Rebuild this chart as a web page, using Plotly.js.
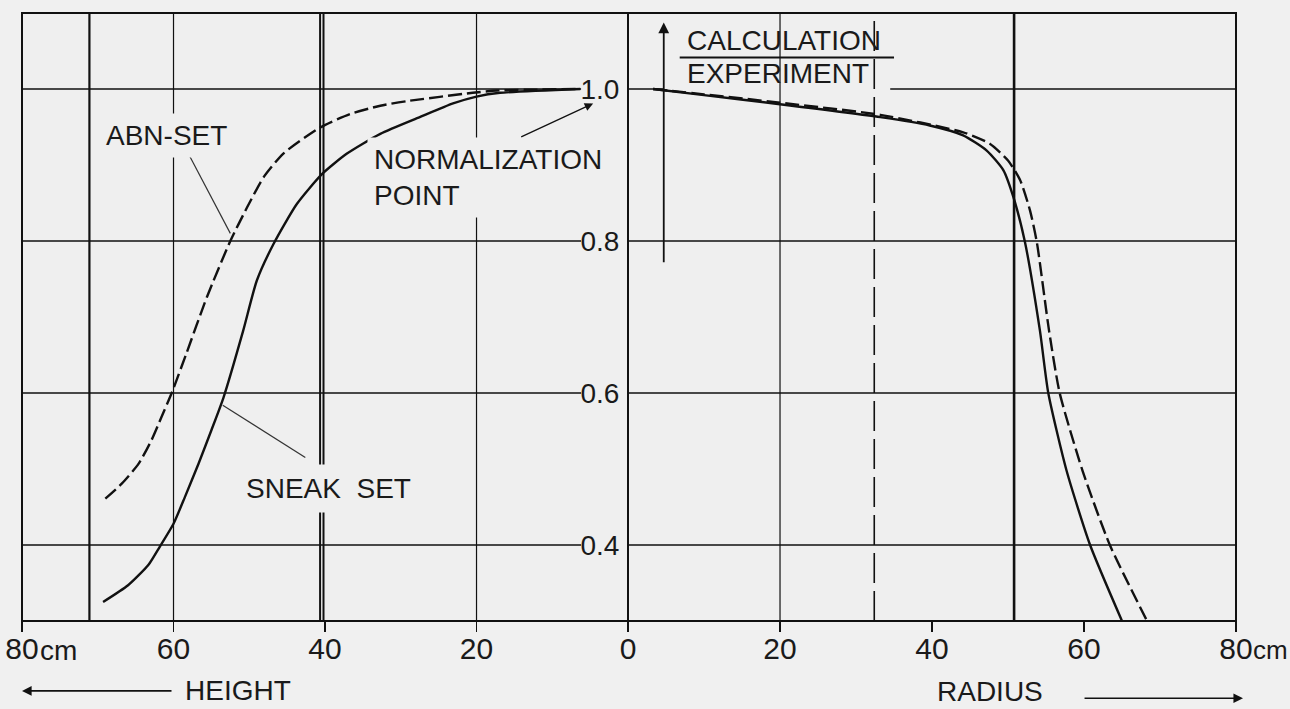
<!DOCTYPE html>
<html><head><meta charset="utf-8">
<script src="https://cdn.plot.ly/plotly-3.0.1.min.js"></script>
<style>html,body{margin:0;padding:0;background:#f0f0f0;} #chart{width:1290px;height:709px;}</style>
</head><body><div id="chart"></div>
<script>
// ---- data ----
// Left half: axial distribution (HEIGHT, cm), ratio CALCULATION / EXPERIMENT
const abnHeight      = [69.0, 66.8, 64.6, 62.9, 61.6, 60.2, 58.3, 55.6, 52.5, 50.3, 48.1, 45.5, 40.7, 36.7, 32.7, 29.2, 20.5, 17.3, 6.3];
const abnHeightRatio = [0.461, 0.481, 0.507, 0.538, 0.568, 0.601, 0.652, 0.726, 0.800, 0.844, 0.884, 0.915, 0.949, 0.967, 0.978, 0.984, 0.995, 0.998, 1.000];
const sneakHeight      = [69.3, 66.0, 63.3, 61.8, 60.0, 58.5, 56.7, 55.0, 53.4, 50.8, 49.0, 46.8, 43.7, 40.4, 37.1, 32.7, 27.5, 23.1, 20.0, 16.9, 6.3];
const sneakHeightRatio = [0.325, 0.347, 0.374, 0.398, 0.428, 0.463, 0.507, 0.551, 0.594, 0.682, 0.748, 0.796, 0.849, 0.888, 0.915, 0.941, 0.963, 0.981, 0.990, 0.995, 1.000];
// Right half: radial distribution (RADIUS, cm)
const sneakRadius      = [3.3, 10, 20, 33.2, 39.7, 44.1, 47.2, 49.4, 50.7, 52.2, 54.2, 55.3, 57.7, 60.8, 65.0];
const sneakRadiusRatio = [1.000, 0.992, 0.980, 0.963, 0.952, 0.939, 0.919, 0.893, 0.858, 0.800, 0.682, 0.600, 0.498, 0.400, 0.300];
const abnRadius        = [3.3, 10, 20, 33.2, 44.1, 47.6, 50.0, 51.6, 52.9, 53.8, 55.4, 56.8, 59.8, 63.4, 68.3];
const abnRadiusRatio   = [1.000, 0.993, 0.982, 0.966, 0.943, 0.928, 0.906, 0.880, 0.840, 0.798, 0.682, 0.600, 0.498, 0.400, 0.300];
// tick labels
const heightTicks = [80, 60, 40, 20];
const heightTickText = ['80', '60', '40', '20'];
const radiusTicks = [0, 20, 40, 60, 80];
const radiusTickText = ['0', '20', '40', '60', '80'];
const ratioTicks = [0.4, 0.6, 0.8, 1.0];
const ratioTickText = ['0.4', '0.6', '0.8', '1.0'];

// ---- styling ----
const INK = '#111111';
const FONT = 'Liberation Sans, Arial, sans-serif';
const dashed = '14px,5px';

const traces = [
  {x: abnHeight, y: abnHeightRatio, xaxis: 'x', yaxis: 'y', name: 'ABN-SET', mode: 'lines',
   line: {color: INK, width: 2.4, dash: dashed, shape: 'spline', smoothing: 0.6}},
  {x: sneakHeight, y: sneakHeightRatio, xaxis: 'x', yaxis: 'y', name: 'SNEAK SET', mode: 'lines',
   line: {color: INK, width: 2.4, shape: 'spline', smoothing: 0.6}},
  {x: abnRadius, y: abnRadiusRatio, xaxis: 'x2', yaxis: 'y', name: 'ABN-SET', mode: 'lines',
   line: {color: INK, width: 2.4, dash: dashed, shape: 'spline', smoothing: 0.6}},
  {x: sneakRadius, y: sneakRadiusRatio, xaxis: 'x2', yaxis: 'y', name: 'SNEAK SET', mode: 'lines',
   line: {color: INK, width: 2.4, shape: 'spline', smoothing: 0.6}}
];

const shapes = [];
function seg(xref, x0, x1, y0, y1, w, dash) {
  shapes.push({type: 'line', xref: xref, yref: 'y', x0: x0, x1: x1, y0: y0, y1: y1, layer: 'below',
               line: {color: INK, width: w, dash: dash || 'solid'}});
}
// horizontal grid (interrupted where the value labels sit)
ratioTicks.forEach(v => {
  seg('x', 80, 6.2, v, v, 1.6);
  if (v === 1.0) { seg('x2', 0, 4.6, v, v, 1.6); seg('x2', 34.5, 80, v, v, 1.6); }
  else seg('x2', 0, 80, v, v, 1.6);
});
// vertical grid lines
[[71.1, 2.2], [60, 1.2], [40.65, 2], [40.2, 2], [20, 1.2]].forEach(g => seg('x', g[0], g[0], 0.3, 1.1, g[1]));
seg('x2', 20, 20, 0.3, 1.1, 1.2);
seg('x2', 32.4, 32.4, 0.3, 1.1, 1.6, '30px,8px');
seg('x2', 50.8, 50.8, 0.3, 1.1, 2.6);
// frame
shapes.push({type: 'rect', xref: 'paper', yref: 'paper', x0: 0, x1: 1, y0: 0, y1: 1, layer: 'below',
             line: {color: INK, width: 2}});
// leader lines
shapes.push({type: 'line', xref: 'x', yref: 'y', x0: 58.1, y0: 0.916, x1: 52.5, y1: 0.810, line: {color: '#333', width: 1.2}});
shapes.push({type: 'line', xref: 'x', yref: 'y', x0: 53.5, y0: 0.584, x1: 42.6, y1: 0.515, line: {color: '#333', width: 1.2}});
// fraction bar CALCULATION / EXPERIMENT
shapes.push({type: 'line', xref: 'x2', yref: 'y', x0: 6.8, x1: 35, y0: 1.0414, y1: 1.0414, line: {color: INK, width: 2}});

const tf = {family: FONT, size: 28, color: '#1a1a1a'};
const annotations = [
  {xref: 'x', yref: 'y', x: 69.9, y: 0.939, xanchor: 'left', yanchor: 'middle', text: 'ABN-SET',
   showarrow: false, font: tf, bgcolor: '#efefef', borderpad: 6},
  {xref: 'x', yref: 'y', x: 51.6, y: 0.474, xanchor: 'left', yanchor: 'middle', text: 'SNEAK  SET',
   showarrow: false, font: tf, bgcolor: '#efefef', borderpad: 8},
  {xref: 'x', yref: 'y', x: 34.4, y: 0.883, xanchor: 'left', yanchor: 'middle', align: 'left',
   text: 'NORMALIZATION<br>POINT', showarrow: false, font: tf, bgcolor: '#efefef', borderpad: 6},
  {xref: 'x', yref: 'y', x: 4.6, y: 0.981, ax: 14.3, ay: 0.936, axref: 'x', ayref: 'y', text: '',
   showarrow: true, arrowhead: 2, arrowsize: 1.3, arrowwidth: 1.3, arrowcolor: INK},
  {xref: 'x2', yref: 'y', x: 7.5, y: 1.064, xanchor: 'left', yanchor: 'middle', text: 'CALCULATION',
   showarrow: false, font: tf},
  {xref: 'x2', yref: 'y', x: 7.5, y: 1.020, xanchor: 'left', yanchor: 'middle', text: 'EXPERIMENT',
   showarrow: false, font: tf},
  {xref: 'x2', yref: 'y', x: 4.7, y: 1.0875, ax: 4.7, ay: 0.770, axref: 'x2', ayref: 'y', text: '',
   showarrow: true, arrowhead: 2, arrowsize: 1.2, arrowwidth: 1.8, arrowcolor: INK},
  // unit parts of the outer tick labels
  {xref: 'paper', yref: 'paper', x: 0.0132, y: -0.0477, xanchor: 'left', yanchor: 'middle', text: 'cm',
   showarrow: false, font: {family: FONT, size: 28, color: '#1a1a1a'}},
  {xref: 'paper', yref: 'paper', x: 1.0125, y: -0.0477, xanchor: 'left', yanchor: 'middle', text: 'cm',
   showarrow: false, font: {family: FONT, size: 26, color: '#1a1a1a'}},
  // axis titles with arrows
  {xref: 'paper', yref: 'paper', x: 0.178, y: -0.115, xanchor: 'center', yanchor: 'middle', text: 'HEIGHT',
   showarrow: false, font: tf},
  {xref: 'paper', yref: 'paper', x: 0, y: -0.115, ax: 151, ay: 0, text: '',
   showarrow: true, arrowhead: 2, arrowsize: 1.2, arrowwidth: 1.6, arrowcolor: INK},
  {xref: 'paper', yref: 'paper', x: 0.797, y: -0.116, xanchor: 'center', yanchor: 'middle', text: 'RADIUS',
   showarrow: false, font: tf},
  {xref: 'paper', yref: 'paper', x: 1.0058, y: -0.127, ax: -160, ay: 0, text: '',
   showarrow: true, arrowhead: 2, arrowsize: 1.2, arrowwidth: 1.6, arrowcolor: INK}
];

const tickFont = {family: FONT, size: 30, color: '#1a1a1a'};
const layout = {
  width: 1290, height: 709,
  margin: {l: 22, r: 54, t: 13, b: 88, pad: 0},
  paper_bgcolor: '#f0f0f0', plot_bgcolor: '#efefef',
  showlegend: false,
  xaxis: {domain: [0, 0.4992], range: [80, 0], anchor: 'y', tickvals: heightTicks, ticktext: heightTickText,
          ticks: 'outside', ticklen: 10, tickwidth: 1.5, tickcolor: INK, showgrid: false, zeroline: false,
          showline: false, tickfont: tickFont, ticklabelstandoff: -9, fixedrange: true},
  xaxis2: {domain: [0.4992, 1], range: [0, 80], anchor: 'y', tickvals: radiusTicks, ticktext: radiusTickText,
          ticks: 'outside', ticklen: 10, tickwidth: 1.5, tickcolor: INK, showgrid: false, zeroline: false,
          showline: false, tickfont: tickFont, ticklabelstandoff: -9, fixedrange: true},
  yaxis: {range: [0.3, 1.1], anchor: 'free', position: 0.4992, side: 'left', tickvals: ratioTicks,
          ticktext: ratioTickText, ticks: '', showgrid: false, zeroline: false, showline: true,
          linecolor: INK, linewidth: 2.2, ticklabelstandoff: 2,
          tickfont: {family: FONT, size: 28, color: '#1a1a1a'}, fixedrange: true},
  shapes: shapes,
  annotations: annotations
};
Plotly.newPlot('chart', traces, layout, {displayModeBar: false, staticPlot: true});
</script>
</body></html>
